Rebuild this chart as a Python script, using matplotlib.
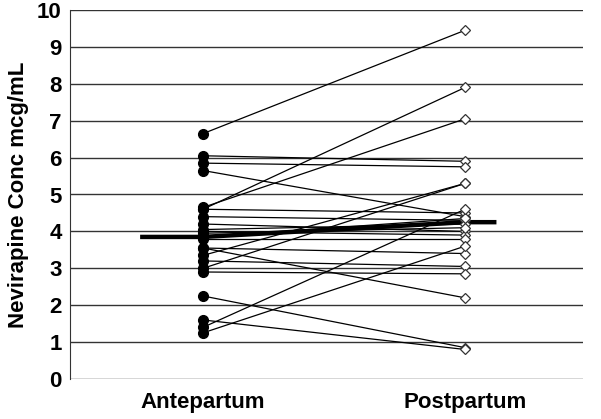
import matplotlib
matplotlib.use("Agg")
import matplotlib.pyplot as plt

categories = ["Antepartum", "Postpartum"]
antepartum = [6.65, 6.05, 5.85, 5.65, 4.65, 4.6, 4.6, 4.4, 4.2, 4.05, 4.0, 3.95,
              3.85, 3.8, 3.55, 3.55, 3.35, 3.2, 3.0, 2.9, 2.25, 1.6, 1.4, 1.25]
postpartum = [9.45, 5.9, 5.75, 4.4, 7.05, 7.9, 4.5, 4.3, 4.0, 4.2, 3.9, 4.1,
              4.35, 3.8, 2.2, 3.4, 5.3, 3.05, 5.3, 2.85, 0.85, 0.8, 4.6, 3.6]
median_ante = 3.85
median_post = 4.25
yticks = list(range(0, 11))

plt.rcParams['font.family'] = ['Liberation Sans', 'DejaVu Sans']
fig = plt.figure(figsize=(6.01, 4.19), dpi=100)
ax = fig.add_axes([70/601, 1-379/419, (583-70)/601, (379-10)/419])

for y in yticks:
    ax.axhline(y, color='#333333', lw=1.0, zorder=1)

for a, p in zip(antepartum, postpartum):
    ax.plot([1, 2], [a, p], color='black', lw=0.9, zorder=2)

ax.plot([0.76, 1, 2, 2.12], [median_ante, median_ante, median_post, median_post],
        color='black', lw=3.2, zorder=3, solid_capstyle='butt')

ax.plot([1]*len(antepartum), antepartum, 'o', color='black', ms=7, zorder=4)
ax.plot([2]*len(postpartum), postpartum, 'D', mfc='white', mec='#333333', mew=0.9,
        ms=5, zorder=4)

ax.set_xlim(1 - 133/262, 1 + 380/262)
ax.set_ylim(0, 10)
ax.set_yticks(yticks)
ax.set_xticks([1, 2])
ax.set_xticklabels(categories, fontsize=16, fontweight='bold')
ax.tick_params(axis='y', length=0, labelsize=16, pad=6)
ax.tick_params(axis='x', length=0, pad=9)
for lab in ax.get_yticklabels():
    lab.set_fontweight('bold')
for s in ['top', 'right', 'bottom']:
    ax.spines[s].set_visible(False)
ax.spines['left'].set_color('#333333')
ax.set_ylabel("Nevirapine Conc mcg/mL", fontsize=16, fontweight='bold', labelpad=6)

fig.savefig("out.png", dpi=100)
